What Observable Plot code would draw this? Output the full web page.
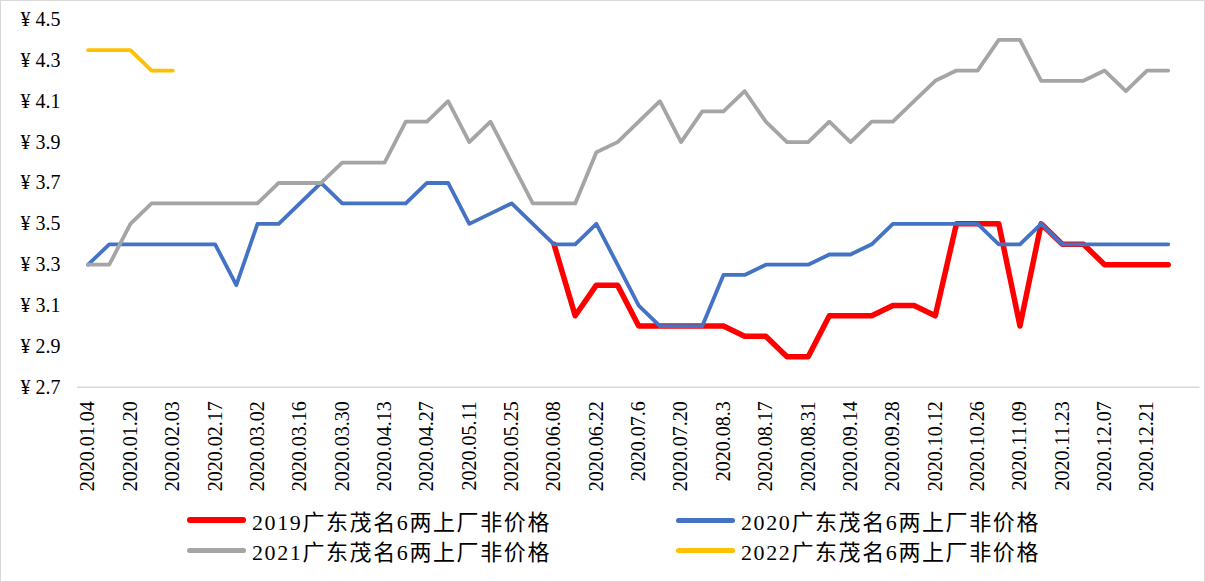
<!DOCTYPE html>
<html>
<head>
<meta charset="utf-8">
<script src="https://cdn.jsdelivr.net/npm/d3@7"></script>
<script src="https://cdn.jsdelivr.net/npm/@observablehq/plot@0.6"></script>
<style>
  html, body { margin: 0; padding: 0; background: #fff; }
  #wrap { position: relative; width: 1205px; height: 582px; box-sizing: border-box; border: 1.5px solid #d9d9d9; overflow: hidden; }
  #chart { position: absolute; left: -1.5px; top: -1.5px; }
  #legend { position: absolute; left: 186px; top: 504px; display: grid; grid-template-columns: 489px 489px; grid-auto-rows: 30px; }
  .item { display: flex; align-items: center; font-family: "Liberation Serif", "Noto Sans CJK SC", serif; font-size: 22px; color: #000; }
  .item span.t { letter-spacing: 1.6px; }
  .sw { width: 59px; border-radius: 3px; margin-right: 6px; }
</style>
</head>
<body>
<div id="wrap"><div id="chart"></div><div id="legend"></div></div>
<script>
// Category labels (weekly); only every other one is displayed on the axis
const weeks = [
  "2020.01.04","2020.01.13","2020.01.20","2020.01.27","2020.02.03","2020.02.10","2020.02.17","2020.02.24",
  "2020.03.02","2020.03.09","2020.03.16","2020.03.23","2020.03.30","2020.04.06","2020.04.13","2020.04.20",
  "2020.04.27","2020.05.04","2020.05.11","2020.05.18","2020.05.25","2020.06.01","2020.06.08","2020.06.15",
  "2020.06.22","2020.06.29","2020.07.6","2020.07.13","2020.07.20","2020.07.27","2020.08.3","2020.08.10",
  "2020.08.17","2020.08.24","2020.08.31","2020.09.07","2020.09.14","2020.09.21","2020.09.28","2020.10.05",
  "2020.10.12","2020.10.19","2020.10.26","2020.11.02","2020.11.09","2020.11.16","2020.11.23","2020.11.30",
  "2020.12.07","2020.12.14","2020.12.21","2020.12.28",""
];

const yTicks = [2.7, 2.9, 3.1, 3.3, 3.5, 3.7, 3.9, 4.1, 4.3, 4.5];

const names = [
  "2019广东茂名6两上厂非价格",
  "2020广东茂名6两上厂非价格",
  "2021广东茂名6两上厂非价格",
  "2022广东茂名6两上厂非价格"
];

const v2019 = [
  null,null,null,null,null,null,null,null,null,null,null,null,null,null,null,null,null,null,null,null,null,null,
  3.4,3.05,3.2,3.2,3.0,3.0,3.0,3.0,3.0,2.95,2.95,2.85,2.85,3.05,3.05,3.05,3.1,3.1,3.05,3.5,3.5,3.5,3.0,3.5,
  3.4,3.4,3.3,3.3,3.3,3.3,null
];
const v2020 = [
  3.3,3.4,3.4,3.4,3.4,3.4,3.4,3.2,3.5,3.5,3.6,3.7,3.6,3.6,3.6,3.6,3.7,3.7,3.5,3.55,3.6,3.5,3.4,3.4,3.5,3.3,
  3.1,3.0,3.0,3.0,3.25,3.25,3.3,3.3,3.3,3.35,3.35,3.4,3.5,3.5,3.5,3.5,3.5,3.4,3.4,3.5,3.4,3.4,3.4,3.4,3.4,3.4,null
];
const v2021 = [
  3.3,3.3,3.5,3.6,3.6,3.6,3.6,3.6,3.6,3.7,3.7,3.7,3.8,3.8,3.8,4.0,4.0,4.1,3.9,4.0,3.8,3.6,3.6,3.6,3.85,3.9,
  4.0,4.1,3.9,4.05,4.05,4.15,4.0,3.9,3.9,4.0,3.9,4.0,4.0,4.1,4.2,4.25,4.25,4.4,4.4,4.2,4.2,4.2,4.25,4.15,4.25,4.25,null
];
const v2022 = [4.35,4.35,4.35,4.25,4.25];

const colors = ["#FF0000", "#4472C4", "#A5A5A5", "#FFC000"];
const widths = [5.5, 3.8, 3.8, 3.8];
const values = [v2019, v2020, v2021, v2022];

const tickIdx = weeks.map((w, i) => i).filter(i => i % 2 === 0 && weeks[i] !== "");

const lineMarks = values.map((vals, k) =>
  Plot.line(vals, {
    x: (d, i) => i,
    y: d => d,
    stroke: colors[k],
    strokeWidth: widths[k],
    strokeLinejoin: "round",
    strokeLinecap: "round"
  })
);

const chart = Plot.plot({
  width: 1205,
  height: 500,
  marginLeft: 77,
  marginRight: 5,
  marginTop: 19,
  marginBottom: 113,
  style: { fontFamily: "'Liberation Serif', 'Noto Sans CJK SC', serif", fontSize: "20px", color: "#000", background: "transparent" },
  x: { type: "linear", domain: [-0.5, weeks.length - 0.5] },
  y: { domain: [2.7, 4.5] },
  marks: [
    Plot.axisY({ ticks: yTicks, tickFormat: d => "¥ " + d.toFixed(1), tickSize: 0, tickPadding: 17, fontSize: 20 }),
    Plot.axisX({ ticks: tickIdx, tickFormat: i => weeks[i], tickRotate: -90, tickSize: 0, tickPadding: 14, fontSize: 20 }),
    Plot.ruleY([2.7], { stroke: "#d9d9d9", strokeWidth: 1.5 }),
    ...lineMarks
  ]
});
document.getElementById("chart").appendChild(chart);

const legend = document.getElementById("legend");
names.forEach((n, k) => {
  const it = document.createElement("div");
  it.className = "item";
  const sw = document.createElement("span");
  sw.className = "sw";
  sw.style.background = colors[k];
  sw.style.height = (k === 0 ? 6 : 5) + "px";
  it.appendChild(sw);
  const t = document.createElement("span");
  t.className = "t";
  t.textContent = n;
  it.appendChild(t);
  legend.appendChild(it);
});
</script>
</body>
</html>
